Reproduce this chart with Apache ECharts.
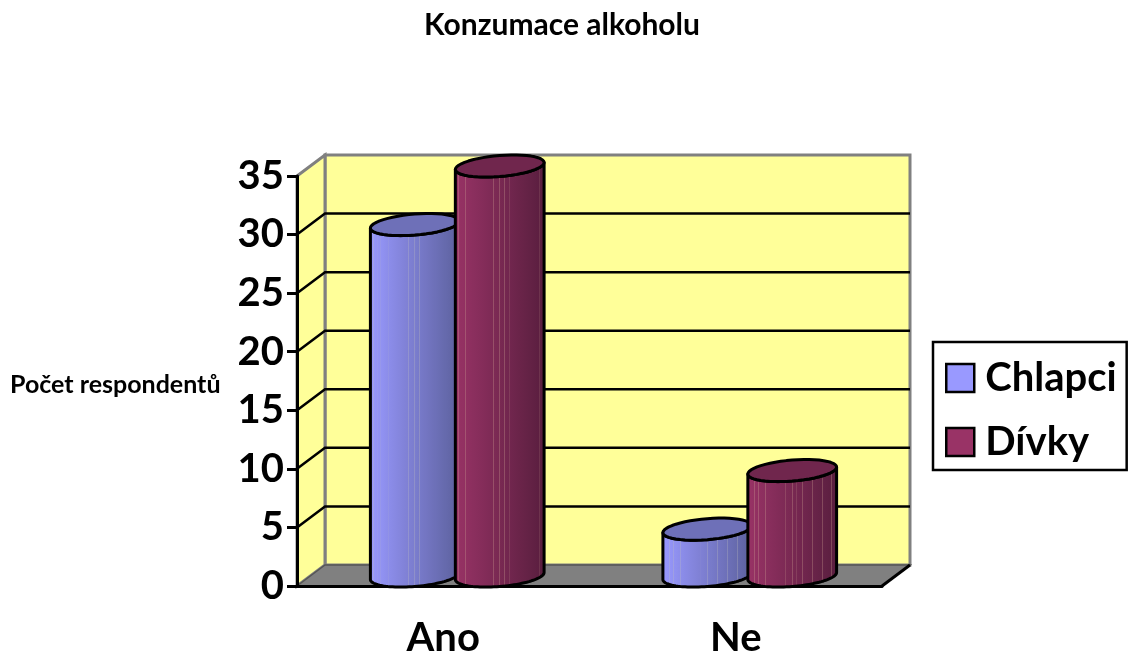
<!DOCTYPE html>
<html>
<head>
<meta charset="utf-8">
<title>Konzumace alkoholu</title>
<script src="https://cdn.jsdelivr.net/npm/echarts@6/dist/echarts.min.js"></script>
<style>
  html, body { margin: 0; padding: 0; background: #fff; }
  #main { width: 1128px; height: 654px; }
</style>
</head>
<body>
<div id="main"></div>
<script>
var categories = ['Ano', 'Ne'];
var chlapci = [30, 4];
var divky = [35, 9];
var yTicks = [5, 10, 15, 20, 25, 30, 35];

var FONT = 'Lato';
// hloubka 3D prostoru v pixelech
var DX = 28, DY = -21;
var BAR_RATIO = 0.3;

function mix(a, b, t) {
  var r = [];
  for (var i = 0; i < 3; i++) r.push(Math.round(a[i] + (b[i] - a[i]) * t));
  return 'rgb(' + r.join(',') + ')';
}
function mix2(a, b, t) {
  return a.map(function (v, i) { return v + (b[i] - v) * t; });
}

// gradient zleva doprava + svisle prouzky jako v originale
var stripes = [0.05, 0.09, 0.13, 0.21, 0.43, 0.5, 0.55, 0.61, 0.72, 0.83, 0.93];
function bodyFill(left, right, light) {
  var stops = [{ offset: 0, color: mix(left, right, 0) }];
  stripes.forEach(function (s) {
    var c = mix(left, right, s);
    var l = mix(mix2(left, right, s), light, 0.3);
    stops.push({ offset: s - 0.004, color: c });
    stops.push({ offset: s - 0.003, color: l });
    stops.push({ offset: s + 0.003, color: l });
    stops.push({ offset: s + 0.004, color: c });
  });
  stops.push({ offset: 1, color: mix(left, right, 1) });
  return new echarts.graphic.LinearGradient(0, 0, 1, 0, stops);
}

var blueFill = bodyFill([153, 153, 255], [92, 96, 156], [190, 190, 190]);
var redFill = bodyFill([153, 51, 102], [88, 30, 62], [210, 170, 150]);

function wallItem(params, api) {
  var c = params.coordSys;
  var x0 = c.x, x1 = c.x + c.width, yT = c.y, yB = c.y + c.height;
  var grey = { stroke: '#808080', lineWidth: 3, lineJoin: 'miter' };
  return {
    type: 'group',
    children: [
      { type: 'polygon', shape: { points: [[x0 + DX, yT + DY], [x1 + DX, yT + DY], [x1 + DX, yB + DY], [x0 + DX, yB + DY]] },
        style: Object.assign({ fill: '#FFFF99' }, grey) },
      { type: 'polygon', shape: { points: [[x0, yT], [x0 + DX, yT + DY], [x0 + DX, yB + DY], [x0, yB]] },
        style: Object.assign({ fill: '#FFFF99' }, grey) },
      { type: 'polygon', shape: { points: [[x0, yB], [x0 + DX, yB + DY], [x1 + DX, yB + DY], [x1, yB]] },
        style: { fill: '#808080', stroke: '#555', lineWidth: 1.5 } },
      { type: 'polyline', shape: { points: [[x1, yB], [x1 + DX, yB + DY]] },
        style: { stroke: '#000', lineWidth: 3, fill: 'none' } }
    ]
  };
}

function gridItem(params, api) {
  var c = params.coordSys;
  var y = api.coord([0, api.value(0)])[1];
  var x0 = c.x, x1 = c.x + c.width;
  return {
    type: 'polyline',
    shape: { points: [[x0, y], [x0 + DX, y + DY], [x1 + DX, y + DY]] },
    style: { stroke: '#000', lineWidth: 2.5, fill: 'none' }
  };
}

function ellipseArc(cx, cy, a, b, s, from, to) {
  var pts = [], n = 48;
  for (var i = 0; i <= n; i++) {
    var t = from + (to - from) * i / n;
    pts.push([cx + a * Math.cos(t), cy + b * Math.sin(t) - s * Math.cos(t)]);
  }
  return pts;
}

function cylinder(side, fill, topColor) {
  return function (params, api) {
    var band = api.size([1, 0])[0];
    var w = band * BAR_RATIO;
    var top = api.coord([api.value(0), api.value(1)]);
    var base = api.coord([api.value(0), 0]);
    var cx = top[0] + DX / 2 + side * (w / 2 - 1.4);
    var a = w / 2 + 0.5, b = 10.5, s = 3.5;
    var yTop = top[1] + DY / 2 + 0.5;
    var yBase = base[1] + DY / 2 + 0.5;
    var lower = ellipseArc(cx, yBase, a, b, s, Math.PI, 0);
    var pts = [[cx - a, yTop + s]].concat(lower, [[cx + a, yTop - s]], ellipseArc(cx, yTop, a, b, s, 0, Math.PI));
    var line = { stroke: '#000', lineWidth: 3, lineJoin: 'round' };
    return {
      type: 'group',
      children: [
        { type: 'polygon', shape: { points: pts }, style: Object.assign({ fill: fill }, line) },
        { type: 'polygon', shape: { points: ellipseArc(cx, yTop, a, b, s, 0, Math.PI * 2) },
          style: Object.assign({ fill: topColor }, line) }
      ]
    };
  };
}

function pairs(values) {
  return values.map(function (v, i) { return [i, v]; });
}

var myChart = echarts.init(document.getElementById('main'), null, { renderer: 'canvas' });
var option = {
  animation: false,
  backgroundColor: '#fff',
  textStyle: { fontFamily: FONT },
  title: [
    { text: 'Konzumace alkoholu', left: 557, textAlign: 'center', top: 5,
      textStyle: { fontFamily: FONT, fontWeight: 'bold', fontSize: 30, color: '#000' } },
    { text: 'Počet respondentů', left: 5, top: 367,
      textStyle: { fontFamily: FONT, fontWeight: 'bold', fontSize: 25, color: '#000' } }
  ],
  grid: { left: 297, right: 246, top: 176, bottom: 68, containLabel: false, outerBoundsMode: 'none' },
  legend: {
    data: [
      { name: 'Chlapci', itemStyle: { color: '#9999FF', borderColor: '#000', borderWidth: 2.5 } },
      { name: 'Dívky', itemStyle: { color: '#993366', borderColor: '#000', borderWidth: 2.5 } }
    ],
    orient: 'vertical',
    left: 933,
    top: 342,
    padding: [16, 10, 8, 12],
    itemGap: 24,
    itemWidth: 28,
    itemHeight: 28,
    icon: 'rect',
    borderColor: '#000',
    borderWidth: 2.5,
    textStyle: { fontFamily: FONT, fontWeight: 'bold', fontSize: 40, color: '#000', padding: [0, 0, 0, 6] }
  },
  xAxis: {
    type: 'category',
    data: categories,
    z: 1,
    axisLine: { lineStyle: { color: '#000', width: 3 } },
    axisTick: { length: 10, lineStyle: { color: '#000', width: 3 } },
    axisLabel: { fontFamily: FONT, fontWeight: 'bold', fontSize: 40, color: '#000', margin: 32 }
  },
  yAxis: {
    type: 'value',
    min: 0,
    max: 35,
    interval: 5,
    z: 1,
    splitLine: { show: false },
    axisLine: { show: true, lineStyle: { color: '#000', width: 3 } },
    axisTick: { show: true, length: 10, lineStyle: { color: '#000', width: 3 } },
    axisLabel: { fontFamily: FONT, fontWeight: 'bold', fontSize: 40, color: '#000', margin: 13, padding: [4, 0, 0, 0] }
  },
  series: [
    { type: 'custom', z: 0, silent: true, renderItem: wallItem, data: [[0]], encode: { x: -1, y: -1 } },
    { type: 'custom', z: 0, silent: true, renderItem: gridItem, data: yTicks.slice(0, -1).map(function (v) { return [v]; }), encode: { x: -1, y: 0 } },
    { type: 'custom', name: 'Chlapci', z: 2, itemStyle: { color: '#9999FF' }, renderItem: cylinder(-1, blueFill, '#6E70B8'), data: pairs(chlapci), encode: { x: 0, y: 1 } },
    { type: 'custom', name: 'Dívky', z: 3, itemStyle: { color: '#993366' }, renderItem: cylinder(1, redFill, '#70264D'), data: pairs(divky), encode: { x: 0, y: 1 } }
  ]
};
myChart.setOption(option);
</script>
</body>
</html>
